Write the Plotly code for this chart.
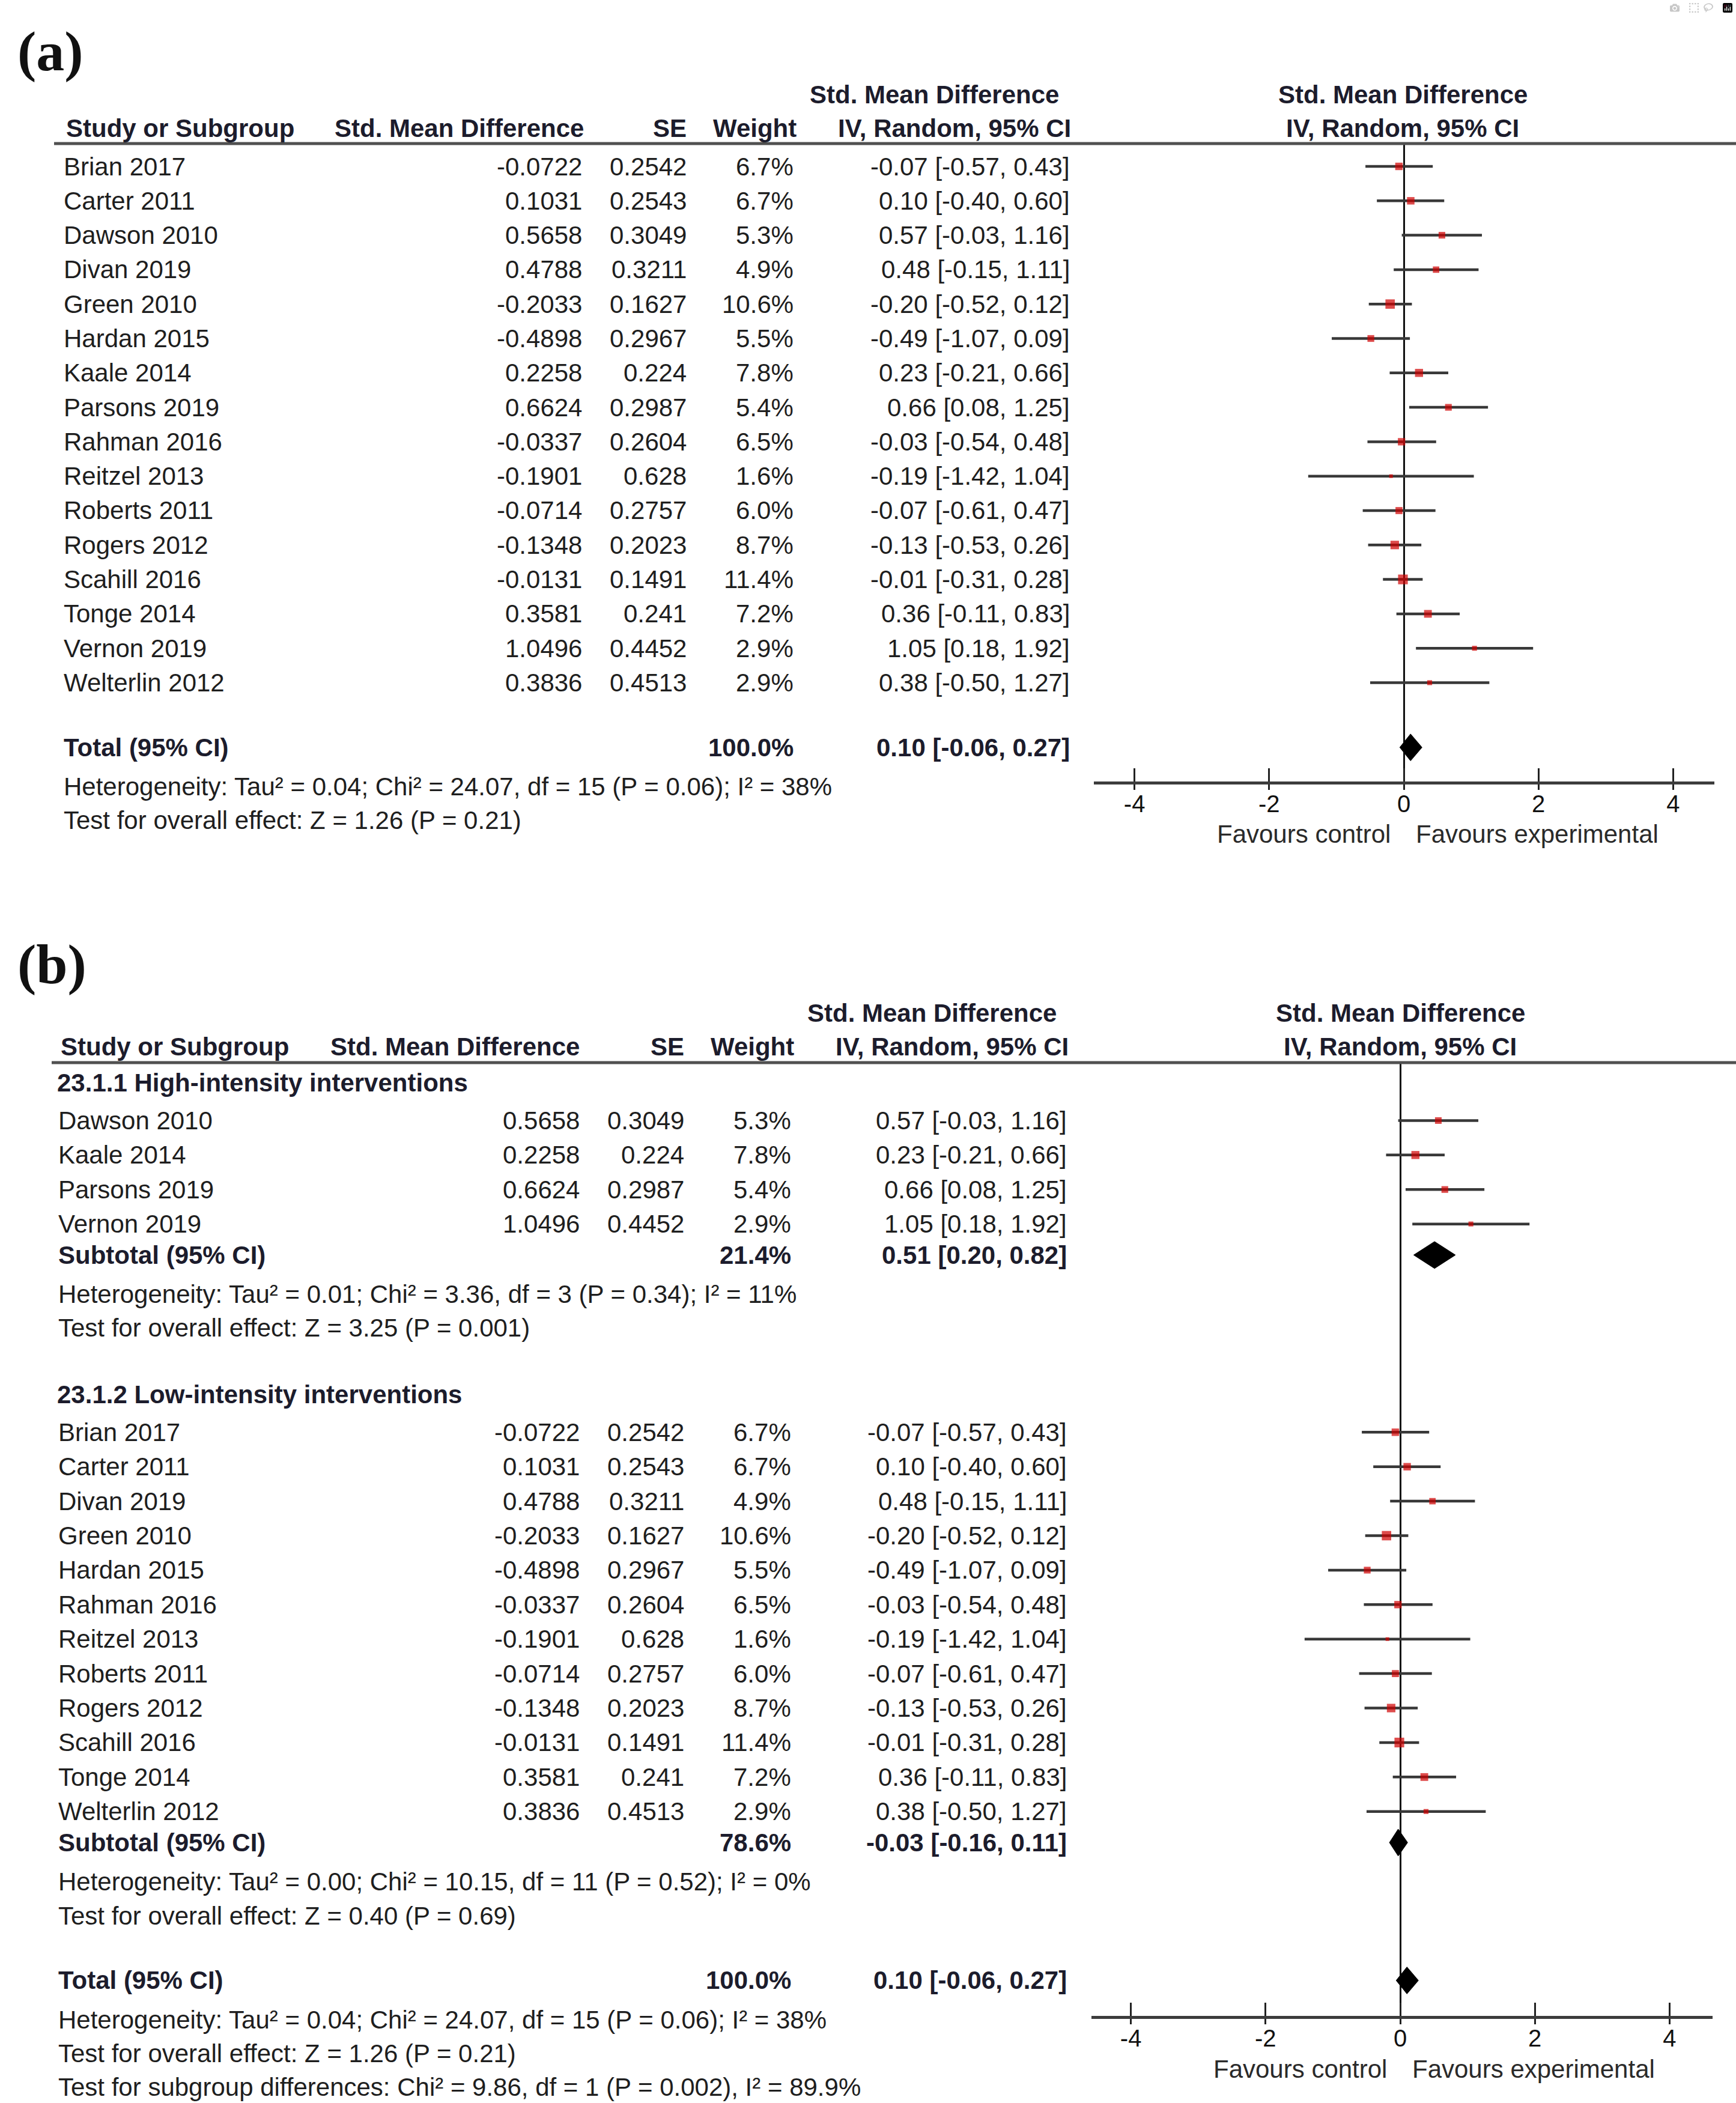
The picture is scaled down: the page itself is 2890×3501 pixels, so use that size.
import math
import plotly.graph_objects as go

# ---------------- data ----------------
studies = ["Brian 2017", "Carter 2011", "Dawson 2010", "Divan 2019", "Green 2010",
           "Hardan 2015", "Kaale 2014", "Parsons 2019", "Rahman 2016", "Reitzel 2013",
           "Roberts 2011", "Rogers 2012", "Scahill 2016", "Tonge 2014", "Vernon 2019",
           "Welterlin 2012"]
smd = [-0.0722, 0.1031, 0.5658, 0.4788, -0.2033, -0.4898, 0.2258, 0.6624, -0.0337,
       -0.1901, -0.0714, -0.1348, -0.0131, 0.3581, 1.0496, 0.3836]
se = [0.2542, 0.2543, 0.3049, 0.3211, 0.1627, 0.2967, 0.224, 0.2987, 0.2604,
      0.628, 0.2757, 0.2023, 0.1491, 0.241, 0.4452, 0.4513]
weight = [6.7, 6.7, 5.3, 4.9, 10.6, 5.5, 7.8, 5.4, 6.5, 1.6, 6.0, 8.7, 11.4, 7.2, 2.9, 2.9]
ci_lo = [-0.57, -0.40, -0.03, -0.15, -0.52, -1.07, -0.21, 0.08, -0.54, -1.42, -0.61,
         -0.53, -0.31, -0.11, 0.18, -0.50]
ci_hi = [0.43, 0.60, 1.16, 1.11, 0.12, 0.09, 0.66, 1.25, 0.48, 1.04, 0.47, 0.26, 0.28,
         0.83, 1.92, 1.27]

high_group = ["Dawson 2010", "Kaale 2014", "Parsons 2019", "Vernon 2019"]
low_group = ["Brian 2017", "Carter 2011", "Divan 2019", "Green 2010", "Hardan 2015",
             "Rahman 2016", "Reitzel 2013", "Roberts 2011", "Rogers 2012", "Scahill 2016",
             "Tonge 2014", "Welterlin 2012"]

total_est, total_lo, total_hi, total_w = 0.10, -0.06, 0.27, 100.0
high_est, high_lo, high_hi, high_w = 0.51, 0.20, 0.82, 21.4
low_est, low_lo, low_hi, low_w = -0.03, -0.16, 0.11, 78.6

het_total = "Heterogeneity: Tau² = 0.04; Chi² = 24.07, df = 15 (P = 0.06); I² = 38%"
eff_total = "Test for overall effect: Z = 1.26 (P = 0.21)"
het_high = "Heterogeneity: Tau² = 0.01; Chi² = 3.36, df = 3 (P = 0.34); I² = 11%"
eff_high = "Test for overall effect: Z = 3.25 (P = 0.001)"
het_low = "Heterogeneity: Tau² = 0.00; Chi² = 10.15, df = 11 (P = 0.52); I² = 0%"
eff_low = "Test for overall effect: Z = 0.40 (P = 0.69)"
subgroup_test = "Test for subgroup differences: Chi² = 9.86, df = 1 (P = 0.002), I² = 89.9%"
group_titles = ["23.1.1 High-intensity interventions", "23.1.2 Low-intensity interventions"]

tick_vals = [-4, -2, 0, 2, 4]
tick_text = ["-4", "-2", "0", "2", "4"]

# ---------------- layout constants ----------------
W, H = 2890, 3501
SANS = "Liberation Sans, Arial, sans-serif"
SERIF = "Liberation Serif, Times New Roman, serif"
FS = 42
TXT = "#1e1e1e"
BOLD = "#1c1c2c"
CI_COL = "#383838"
SQ_COL = "#d00000"


def pxy(p):
    return 1 - p / H


def pxx(p):
    return p / W


annotations = []
shapes = []
traces = []


def text(x, y, s, anchor="left", bold=False, size=FS, color=None, family=SANS):
    annotations.append(dict(
        x=pxx(x), y=pxy(y), xref="paper", yref="paper", text=("<b>%s</b>" % s) if bold else s,
        showarrow=False, xanchor=anchor, yanchor="middle",
        font=dict(family=family, size=size, color=color or (BOLD if bold else TXT))))


def fmt_ci(e, l, h):
    return "%.2f [%.2f, %.2f]" % (e, l, h)


idx = {s: i for i, s in enumerate(studies)}

panels = [
    dict(label="(a)", label_y=85, xa="x", ya="y", xname="xaxis", yname="yaxis",
         row0=277, step=57.3, hdr1=158, hdr2=214, hline=239, hline_x0=90,
         axis_y=1301, axis_l=1821, axis_r=2854, zero=2337, unit=112.1, fav_y=1388,
         name_x=104, smd_x=971, se_x=1145, wt_x=1323, ci_x=1783,
         h_study=108, h_smd=974, h_se=1145, h_wt=1328, h_ci1=1555, h_ci2=1589, h_plot=2335),
    dict(label="(b)", label_y=1605, xa="x2", ya="y2", xname="xaxis2", yname="yaxis2",
         row0=1866, step=57.4, hdr1=1686, hdr2=1742, hline=1769, hline_x0=86,
         axis_y=3356, axis_l=1817, axis_r=2851, zero=2331, unit=112.1, fav_y=3444,
         name_x=95, smd_x=967, se_x=1141, wt_x=1319, ci_x=1778,
         h_study=99, h_smd=967, h_se=1141, h_wt=1324, h_ci1=1551, h_ci2=1585, h_plot=2331),
]

layout_axes = {}

for pi, P in enumerate(panels):
    rows = []
    if pi == 0:
        r = 0.0
        for s in studies:
            rows.append(("study", r, s))
            r += 1
        r = r - 1 + 1.88
        rows.append(("pooled", r, ("Total (95% CI)", total_est, total_lo, total_hi, total_w)))
        r += 1.14
        rows.append(("note", r, het_total))
        r += 0.98
        rows.append(("note", r, eff_total))
    else:
        r = -1.1
        groups = [(group_titles[0], high_group, (high_est, high_lo, high_hi, high_w), het_high, eff_high),
                  (group_titles[1], low_group, (low_est, low_lo, low_hi, low_w), het_low, eff_low)]
        for gi, (gt, members, pooled, het, eff) in enumerate(groups):
            rows.append(("group", r, gt))
            r += 1.09
            for s in members:
                rows.append(("study", r, s))
                r += 1
            r = r - 1 + 0.9
            rows.append(("pooled", r, ("Subtotal (95% CI)",) + pooled))
            r += 1.14
            rows.append(("note", r, het))
            r += 0.98
            rows.append(("note", r, eff))
            r += 1.93
        r = r - 1.93 + 1.88
        rows.append(("pooled", r, ("Total (95% CI)", total_est, total_lo, total_hi, total_w)))
        r += 1.14
        rows.append(("note", r, het_total))
        r += 0.98
        rows.append(("note", r, eff_total))
        r += 0.98
        rows.append(("note", r, subgroup_test))

    def ypix(rr, P=P):
        return P["row0"] + P["step"] * rr

    # panel label
    text(27, P["label_y"], "<b>%s</b>" % P["label"], size=94, family=SERIF, color="#111")
    # headers
    text(P["h_ci1"], P["hdr1"], "Std. Mean Difference", anchor="center", bold=True)
    text(P["h_plot"], P["hdr1"], "Std. Mean Difference", anchor="center", bold=True)
    text(P["h_study"], P["hdr2"], "Study or Subgroup", bold=True)
    text(P["h_smd"], P["hdr2"], "Std. Mean Difference", anchor="right", bold=True)
    text(P["h_se"], P["hdr2"], "SE", anchor="right", bold=True)
    text(P["h_wt"], P["hdr2"], "Weight", anchor="right", bold=True)
    text(P["h_ci2"], P["hdr2"], "IV, Random, 95% CI", anchor="center", bold=True)
    text(P["h_plot"], P["hdr2"], "IV, Random, 95% CI", anchor="center", bold=True)
    shapes.append(dict(type="line", xref="paper", yref="paper", x0=pxx(P["hline_x0"]), x1=1.0,
                       y0=pxy(P["hline"]), y1=pxy(P["hline"]),
                       line=dict(color="#505050", width=5)))

    ci_x, ci_y, sq_x, sq_y, sq_s = [], [], [], [], []
    for kind, rr, pay in rows:
        yp = ypix(rr)
        if kind == "study":
            i = idx[pay]
            text(P["name_x"], yp, pay)
            text(P["smd_x"], yp, "%.4f" % smd[i], anchor="right")
            text(P["se_x"], yp, str(se[i]), anchor="right")
            text(P["wt_x"], yp, "%.1f%%" % weight[i], anchor="right")
            text(P["ci_x"], yp, fmt_ci(round(smd[i], 2), ci_lo[i], ci_hi[i]), anchor="right")
            ci_x += [ci_lo[i], ci_hi[i], None]
            ci_y += [rr, rr, None]
            sq_x.append(smd[i])
            sq_y.append(rr)
            sq_s.append(4.8 * math.sqrt(weight[i]))
        elif kind == "pooled":
            lab, e, l, h, w = pay
            text(P["name_x"], yp, lab, bold=True)
            text(P["wt_x"], yp, "%.1f%%" % w, anchor="right", bold=True)
            text(P["ci_x"], yp, fmt_ci(e, l, h), anchor="right", bold=True)
            dh = 0.39
            traces.append(go.Scatter(x=[l, e, h, e, l], y=[rr, rr - dh, rr, rr + dh, rr],
                                     mode="lines", fill="toself", fillcolor="#000000",
                                     line=dict(color="#000000", width=1),
                                     xaxis=P["xa"], yaxis=P["ya"], hoverinfo="skip",
                                     showlegend=False))
        elif kind == "group":
            text(P["name_x"] - 2, yp, pay, bold=True)
        else:
            text(P["name_x"], yp, pay)

    traces.insert(0, go.Scatter(x=ci_x, y=ci_y, mode="lines", line=dict(color=CI_COL, width=4.5),
                                xaxis=P["xa"], yaxis=P["ya"], hoverinfo="skip", showlegend=False))
    traces.append(go.Scatter(x=sq_x, y=sq_y, mode="markers",
                             marker=dict(symbol="square", size=sq_s, color=SQ_COL, line=dict(width=0)),
                             xaxis=P["xa"], yaxis=P["ya"], hoverinfo="skip", showlegend=False))

    for s, anc, shift in [("Favours control", "right", -20), ("Favours experimental", "left", 18)]:
        annotations.append(dict(x=0, xref=P["xa"], y=pxy(P["fav_y"]), yref="paper", text=s,
                                showarrow=False, xanchor=anc, xshift=shift, yanchor="middle",
                                font=dict(family=SANS, size=FS, color="#2a2a2a")))

    xr = [(P["axis_l"] - P["zero"]) / P["unit"], (P["axis_r"] - P["zero"]) / P["unit"]]
    yr = [(P["axis_y"] - P["row0"]) / P["step"], (P["hline"] - P["row0"]) / P["step"]]
    layout_axes[P["xname"]] = dict(
        domain=[pxx(P["axis_l"]), pxx(P["axis_r"])], range=xr, anchor=P["ya"],
        showline=True, linecolor="#3c3c3c", linewidth=5, ticks="inside", ticklen=22,
        tickwidth=3, tickcolor="#222", tickvals=tick_vals, ticktext=tick_text,
        minor=dict(ticks="outside", tickvals=tick_vals, ticklen=9, tickwidth=3, tickcolor="#222",
                   showgrid=False),
        tickfont=dict(family=SANS, size=40, color="#111"), ticklabelstandoff=-2,
        showgrid=False, zeroline=True, zerolinecolor="#111", zerolinewidth=2.5,
        fixedrange=True)
    layout_axes[P["yname"]] = dict(
        domain=[pxy(P["axis_y"]), pxy(P["hline"])], range=yr, anchor=P["xa"],
        visible=False, showgrid=False, zeroline=False, fixedrange=True)

fig = go.Figure(data=traces)
fig.update_layout(
    width=W, height=H, margin=dict(l=0, r=0, t=0, b=0),
    paper_bgcolor="white", plot_bgcolor="white",
    annotations=annotations, shapes=shapes, showlegend=False,
    **layout_axes)

fig.write_html("out.html", post_script="document.body.style.margin='0';document.body.style.overflow='hidden';")
